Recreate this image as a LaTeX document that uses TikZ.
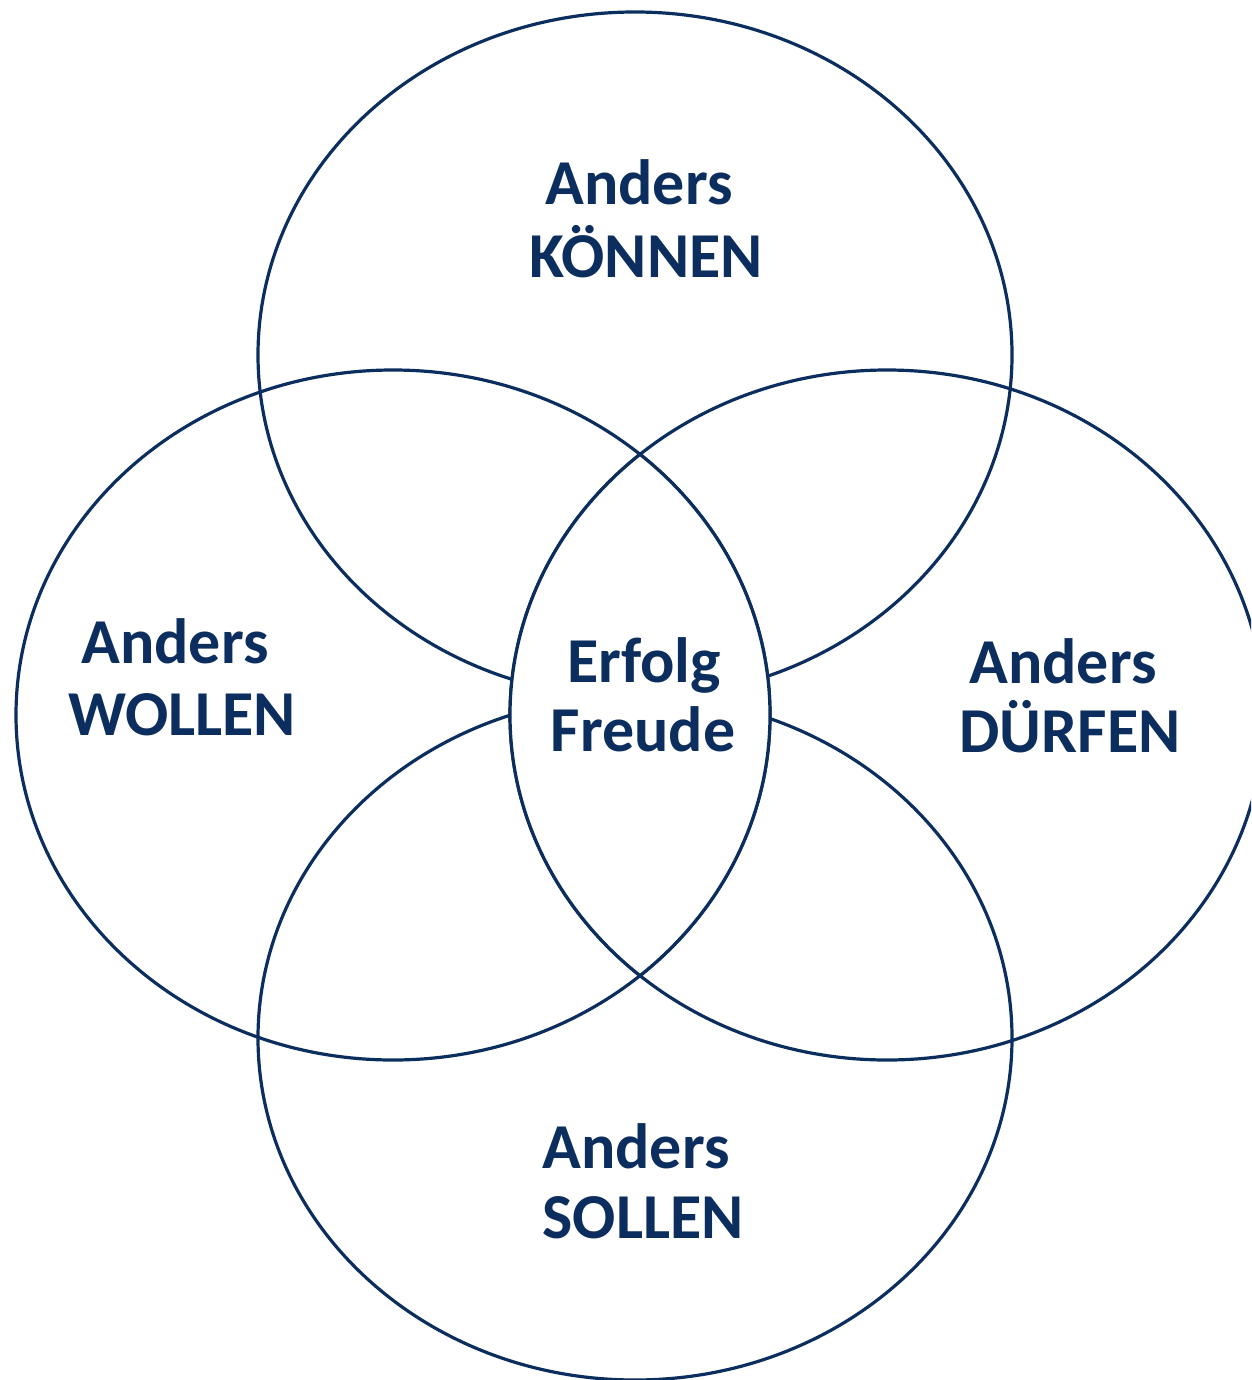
\documentclass[tikz,border=0pt]{standalone}
\usepackage{fontspec}
\setmainfont{Carlito}
\definecolor{navy}{RGB}{12,46,94}
\begin{document}
\begin{tikzpicture}[x=1pt,y=-1pt,
  ring/.style={draw=navy,line width=3.2pt},
  label/.style={text=navy,font=\fontsize{64}{70}\selectfont\bfseries,anchor=base,inner sep=0pt}]
\useasboundingbox (0,0) rectangle (1251,1380);
\clip (0,0) rectangle (1251,1380);
% four overlapping ellipses
\draw[ring] (635,355)  ellipse [x radius=377pt, y radius=343pt];
\draw[ring] (635,1038) ellipse [x radius=377pt, y radius=342pt];
\draw[ring] (393,715)  ellipse [x radius=377pt, y radius=345pt];
\draw[ring] (887,715)  ellipse [x radius=377pt, y radius=345pt];
% central lens (left ellipse meets right ellipse) drawn over the rest
\begin{scope}
  \clip (393,715) ellipse [x radius=377pt, y radius=345pt];
  \fill[white] (887,715) ellipse [x radius=377pt, y radius=345pt];
  \draw[ring] (887,715) ellipse [x radius=377pt, y radius=345pt];
\end{scope}
\begin{scope}
  \clip (887,715) ellipse [x radius=377pt, y radius=345pt];
  \draw[ring] (393,715) ellipse [x radius=377pt, y radius=345pt];
\end{scope}
% labels
\node[label] (k1) at (639,205) {Anders};
\node[label] (k2) at (646,277) {KÖNNEN};
\node[label] (w1) at (175,663) {Anders};
\node[label] (w2) at (182,735) {WOLLEN};
\node[label] (d1) at (1063,683) {Anders};
\node[label] (d2) at (1070,752) {DÜRFEN};
\node[label] (s1) at (636,1168) {Anders};
\node[label] (s2) at (643,1238) {SOLLEN};
\node[label] (c1) at (644,682) {Erfolg};
\node[label] (c2) at (643,751) {Freude};
\end{tikzpicture}
\end{document}
